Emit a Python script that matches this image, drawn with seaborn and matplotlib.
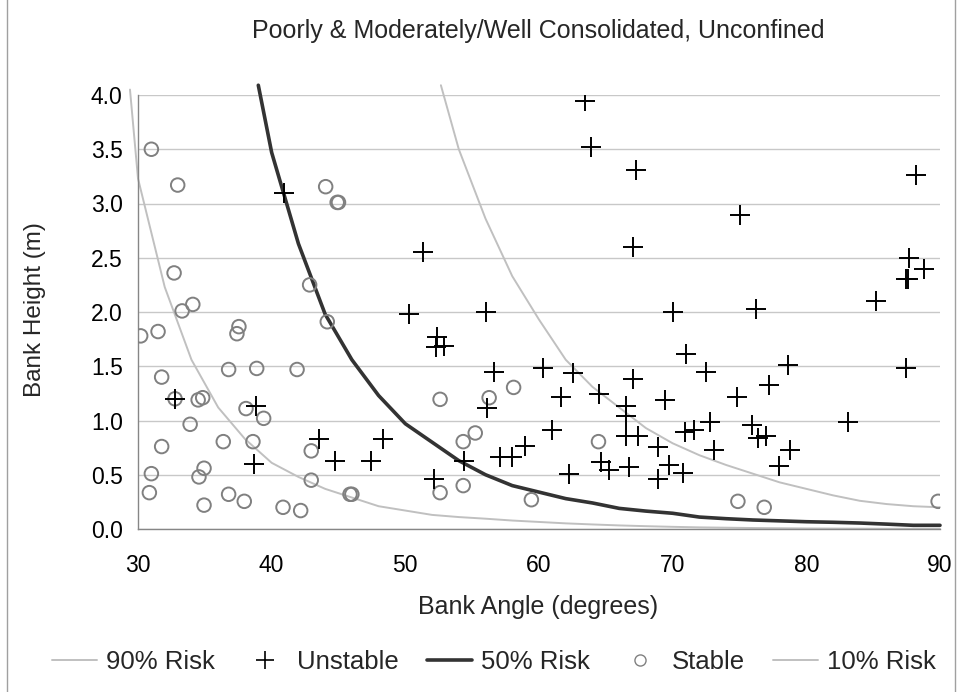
import matplotlib
matplotlib.use("Agg")
import matplotlib.pyplot as plt
from matplotlib.lines import Line2D
from matplotlib.patches import Rectangle
import seaborn as sns
import pandas as pd

# ---------------- data ----------------
stable_angle = [31.0, 32.97, 44.04, 44.9, 45.0, 32.7, 42.84, 34.1, 33.3, 30.2, 31.5, 37.55, 37.4, 44.16,
                31.77, 36.78, 38.88, 41.9, 32.77, 34.5, 34.84, 38.08, 39.4, 33.9, 31.77, 36.38, 38.6,
                42.96, 31.0, 34.94, 34.56, 42.96, 30.85, 36.78, 37.95, 45.86, 46.0, 34.94, 40.85, 42.17,
                52.6, 56.27, 58.1, 55.23, 54.33, 64.45, 52.6, 54.33, 59.43, 74.88, 76.85, 89.86]
stable_height = [3.50, 3.17, 3.155, 3.01, 3.01, 2.36, 2.25, 2.07, 2.01, 1.78, 1.82, 1.865, 1.80, 1.91,
                 1.40, 1.47, 1.48, 1.47, 1.20, 1.19, 1.21, 1.11, 1.02, 0.965, 0.76, 0.805, 0.805,
                 0.72, 0.51, 0.56, 0.48, 0.45, 0.335, 0.32, 0.255, 0.32, 0.32, 0.22, 0.20, 0.17,
                 1.195, 1.21, 1.305, 0.885, 0.805, 0.805, 0.335, 0.40, 0.27, 0.255, 0.20, 0.255]

unstable_angle = [40.94, 32.77, 38.83, 38.7, 43.56, 44.76, 47.4, 48.33, 50.3, 63.46, 63.86, 67.27, 67.0,
                  51.34, 56.0, 70.0, 52.4, 52.3, 52.9, 56.63, 60.3, 62.55, 61.64, 64.5, 67.0, 66.5,
                  66.5, 69.4, 56.1, 61.0, 66.5, 67.4, 68.87, 58.98, 57.1, 57.95, 54.36, 52.16, 62.28,
                  64.65, 65.2, 66.74, 68.87, 69.7, 76.27, 85.2, 71.0, 72.53, 78.64, 87.46, 77.17, 74.8,
                  72.82, 83.1, 70.9, 71.6, 75.97, 76.4, 76.95, 73.1, 78.76, 77.96, 70.8, 88.24, 75.05,
                  87.7, 88.8, 87.45, 87.6]
unstable_height = [3.10, 1.20, 1.13, 0.60, 0.83, 0.63, 0.63, 0.83, 1.98, 3.945, 3.52, 3.31, 2.60,
                   2.55, 2.00, 2.00, 1.77, 1.675, 1.69, 1.45, 1.48, 1.435, 1.217, 1.247, 1.38, 1.13,
                   1.04, 1.19, 1.115, 0.91, 0.86, 0.86, 0.76, 0.765, 0.667, 0.667, 0.63, 0.46, 0.507,
                   0.62, 0.54, 0.574, 0.465, 0.59, 2.03, 2.10, 1.61, 1.447, 1.51, 1.48, 1.33, 1.22,
                   0.99, 0.99, 0.894, 0.91, 0.96, 0.84, 0.86, 0.73, 0.73, 0.584, 0.515, 3.26, 2.89,
                   2.50, 2.40, 2.30, 2.30]

risk90_angle = [29.4, 30, 32, 34, 36, 38, 40, 42, 44, 46, 48, 50, 52, 54, 56, 58, 60, 62, 64, 66, 68,
                70, 72, 74, 76, 78, 80, 82, 84, 86, 88, 90]
risk90_height = [4.05, 3.23, 2.23, 1.56, 1.12, 0.83, 0.61, 0.48, 0.37, 0.29, 0.21, 0.17, 0.13, 0.11,
                 0.095, 0.078, 0.065, 0.052, 0.042, 0.033, 0.026, 0.02, 0.015, 0.012, 0.009, 0.007,
                 0.005, 0.004, 0.003, 0.002, 0.002, 0.001]

risk50_angle = [39.0, 40, 42, 44, 46, 48, 50, 52, 54, 56, 58, 60, 62, 64, 66, 68, 70, 72, 74, 76, 78,
                80, 82, 84, 86, 88, 90]
risk50_height = [4.09, 3.47, 2.63, 1.98, 1.56, 1.23, 0.97, 0.80, 0.63, 0.50, 0.40, 0.34, 0.28, 0.24,
                 0.19, 0.165, 0.145, 0.11, 0.095, 0.083, 0.075, 0.067, 0.062, 0.055, 0.045, 0.034, 0.034]

risk10_angle = [52.66, 54, 56, 58, 60, 62, 64, 66, 68, 70, 72, 74, 76, 78, 80, 82, 84, 86, 88, 90]
risk10_height = [4.09, 3.50, 2.86, 2.33, 1.93, 1.56, 1.31, 1.12, 0.93, 0.79, 0.68, 0.59, 0.51, 0.43,
                 0.37, 0.31, 0.26, 0.23, 0.21, 0.20]

x_ticks = [30, 40, 50, 60, 70, 80, 90]
y_ticks = [0.0, 0.5, 1.0, 1.5, 2.0, 2.5, 3.0, 3.5, 4.0]

# ---------------- style ----------------
sns.set_style("white")
plt.rcParams['font.family'] = ['Liberation Sans', 'DejaVu Sans']

W, H = 958, 692
fig = plt.figure(figsize=(W / 100, H / 100), dpi=100)
ax = fig.add_axes([138 / W, 1 - 529 / H, (940 - 138) / W, (529 - 95) / H])

LIGHT = '#c0c0c0'
DARK = '#333333'
AXC = '#868686'

# curves
sns.lineplot(x=risk90_angle, y=risk90_height, ax=ax, color=LIGHT, lw=1.4, sort=False,
             estimator=None, clip_on=False, zorder=2)
sns.lineplot(x=risk10_angle, y=risk10_height, ax=ax, color=LIGHT, lw=1.4, sort=False,
             estimator=None, clip_on=False, zorder=2)
sns.lineplot(x=risk50_angle, y=risk50_height, ax=ax, color=DARK, lw=2.6, sort=False,
             estimator=None, clip_on=False, zorder=3)

# points
sns.scatterplot(x=stable_angle, y=stable_height, ax=ax, marker='o', s=95,
                facecolor='none', edgecolor='#808080', linewidth=1.4, zorder=4)
sns.scatterplot(x=unstable_angle, y=unstable_height, ax=ax, marker='+', s=190,
                color='black', linewidth=1.4, zorder=5)

ax.set_xlim(30, 90)
ax.set_ylim(0, 4.0)
ax.set_xticks(x_ticks)
ax.set_xticks([35, 45, 55, 65, 75, 85], minor=True)
ax.set_yticks(y_ticks)
ax.set_yticklabels([f"{v:.1f}" for v in y_ticks])
ax.grid(axis='y', color='#c8c8c8', lw=1.0, zorder=0)
ax.set_axisbelow(True)
for s in ['top', 'right']:
    ax.spines[s].set_visible(False)
for s in ['left', 'bottom']:
    ax.spines[s].set_color(AXC)
    ax.spines[s].set_linewidth(1.0)
ax.tick_params(axis='both', which='both', direction='out', length=6, width=1.0,
               color=AXC, labelsize=16.5, labelcolor='black')
ax.tick_params(axis='x', pad=12)
ax.tick_params(axis='y', pad=5)

ax.set_xlabel('Bank Angle (degrees)', fontsize=18)
ax.set_ylabel('Bank Height (m)', fontsize=17.5)
ax.xaxis.set_label_coords((538 - 138) / (940 - 138), (529 - 607) / (529 - 95))
ax.yaxis.set_label_coords((35 - 138) / (940 - 138), (529 - 310) / (529 - 95))
ax.xaxis.label.set_va('center')
ax.yaxis.label.set_va('center')

fig.text(538 / W, 1 - 31 / H, 'Poorly & Moderately/Well Consolidated, Unconfined',
         ha='center', va='center', fontsize=18)

handles = [
    Line2D([], [], color=LIGHT, lw=1.4),
    Line2D([], [], color='black', marker='+', ls='none', markersize=13, markeredgewidth=1.2),
    Line2D([], [], color=DARK, lw=2.6),
    Line2D([], [], color='#808080', marker='o', ls='none', markersize=8, markerfacecolor='none',
           markeredgewidth=1.0),
    Line2D([], [], color=LIGHT, lw=1.4),
]
labels = ['90% Risk', 'Unstable', '50% Risk', 'Stable', '10% Risk']
fig.legend(handles, labels, loc='center', bbox_to_anchor=(494 / W, 1 - 662 / H), ncol=5,
           frameon=False, fontsize=18.5, handlelength=1.75, handletextpad=0.35, columnspacing=1.1)

fig.add_artist(Rectangle((7 / W, -0.01), (955 - 7) / W, 1.02, transform=fig.transFigure,
                         fill=False, edgecolor='#a0a0a0', lw=1.0))

fig.savefig('out.png', dpi=100)
